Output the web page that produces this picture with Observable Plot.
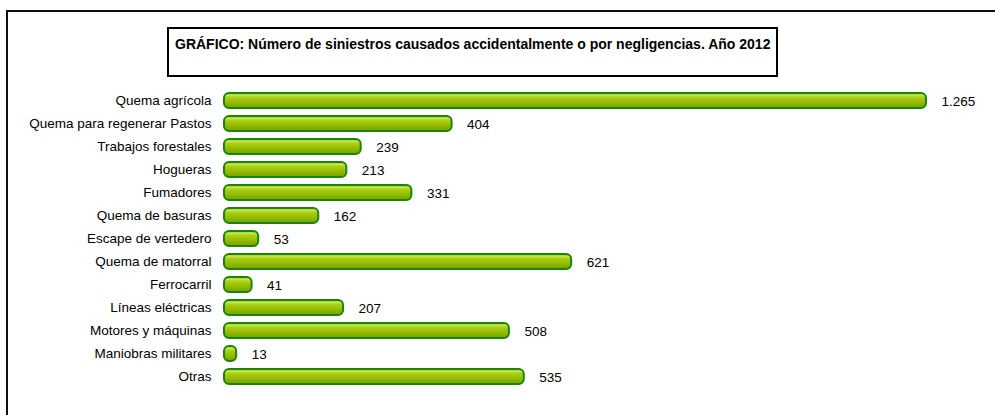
<!DOCTYPE html>
<html>
<head>
<meta charset="utf-8">
<script src="https://cdn.jsdelivr.net/npm/d3@7"></script>
<script src="https://cdn.jsdelivr.net/npm/@observablehq/plot@0.6"></script>
<style>
  html, body { margin: 0; padding: 0; background: #fff; }
  #wrap { position: relative; width: 995px; height: 415px; overflow: hidden; font-family: "Liberation Sans", Arial, sans-serif; }
  #frame { position: absolute; left: 6px; top: 10px; width: 1100px; height: 600px; border: 2px solid #111; box-sizing: border-box; }
  #title { position: absolute; left: 167px; top: 27px; width: 611px; height: 50px; border: 2px solid #000; box-sizing: border-box;
           font-weight: bold; font-size: 14px; color: #000; padding: 7px 0 0 6px; white-space: nowrap; }
  #chart { position: absolute; left: 0; top: 0; }
  #chart svg text { font-size: 13.5px; }
</style>
</head>
<body>
<div id="wrap">
  <div id="frame"></div>
  <div id="chart"></div>
  <div id="title">GRÁFICO: Número de siniestros causados accidentalmente o por negligencias. Año 2012</div>
</div>
<script>
const categories = [
  "Quema agrícola",
  "Quema para regenerar Pastos",
  "Trabajos forestales",
  "Hogueras",
  "Fumadores",
  "Quema de basuras",
  "Escape de vertedero",
  "Quema de matorral",
  "Ferrocarril",
  "Líneas eléctricas",
  "Motores y máquinas",
  "Maniobras militares",
  "Otras"
];
const values = [1265, 404, 239, 213, 331, 162, 53, 621, 41, 207, 508, 13, 535];

const data = categories.map((c, i) => ({cat: c, value: values[i]}));
const fmt = d3.formatLocale({decimal: ",", thousands: ".", grouping: [3], currency: ["", "€"]}).format(",d");

const chart = Plot.plot({
  width: 995,
  height: 415,
  marginLeft: 229,
  marginRight: 69,
  marginTop: 83.3,
  marginBottom: 22.3,
  style: {fontFamily: "'Liberation Sans', Arial, sans-serif", fontSize: "13.5px", color: "#000", background: "transparent", overflow: "visible"},
  x: {domain: [0, 1265], axis: null},
  y: {domain: categories, padding: 0.353, label: null, tickSize: 0, tickPadding: 18},
  marks: [
    Plot.barX(data, {x: "value", y: "cat", fill: "url(#cyl)", stroke: "#17860a", strokeWidth: 2, rx: 5, insetLeft: -5}),
    Plot.text(data, {x: "value", y: "cat", text: d => fmt(d.value), textAnchor: "start", dx: 15, dy: 1, fill: "#000", fontSize: 13.5})
  ]
});

const svg = d3.select(chart);
const defs = svg.insert("defs", ":first-child");
const g = defs.append("linearGradient").attr("id", "cyl").attr("x1", 0).attr("y1", 0).attr("x2", 0).attr("y2", 1);
[[0, "#98c200"], [0.15, "#c8e650"], [0.3, "#aad016"], [0.65, "#92ba00"], [1, "#76a000"]]
  .forEach(([o, c]) => g.append("stop").attr("offset", o).attr("stop-color", c));

svg.selectAll("rect").each(function() {
  const r = d3.select(this);
  if (r.attr("fill") !== "url(#cyl)") return;
  const x = +r.attr("x"), w = +r.attr("width"), y = +r.attr("y"), h = +r.attr("height");
  d3.select(this.parentNode).append("ellipse")
    .attr("cx", x + w - 3.5).attr("cy", y + h / 2)
    .attr("rx", 3).attr("ry", h / 2 - 1.2)
    .attr("fill", "#6a8400").attr("stroke", "#177a08").attr("stroke-width", 1.5);
});

document.getElementById("chart").appendChild(chart);
</script>
</body>
</html>
